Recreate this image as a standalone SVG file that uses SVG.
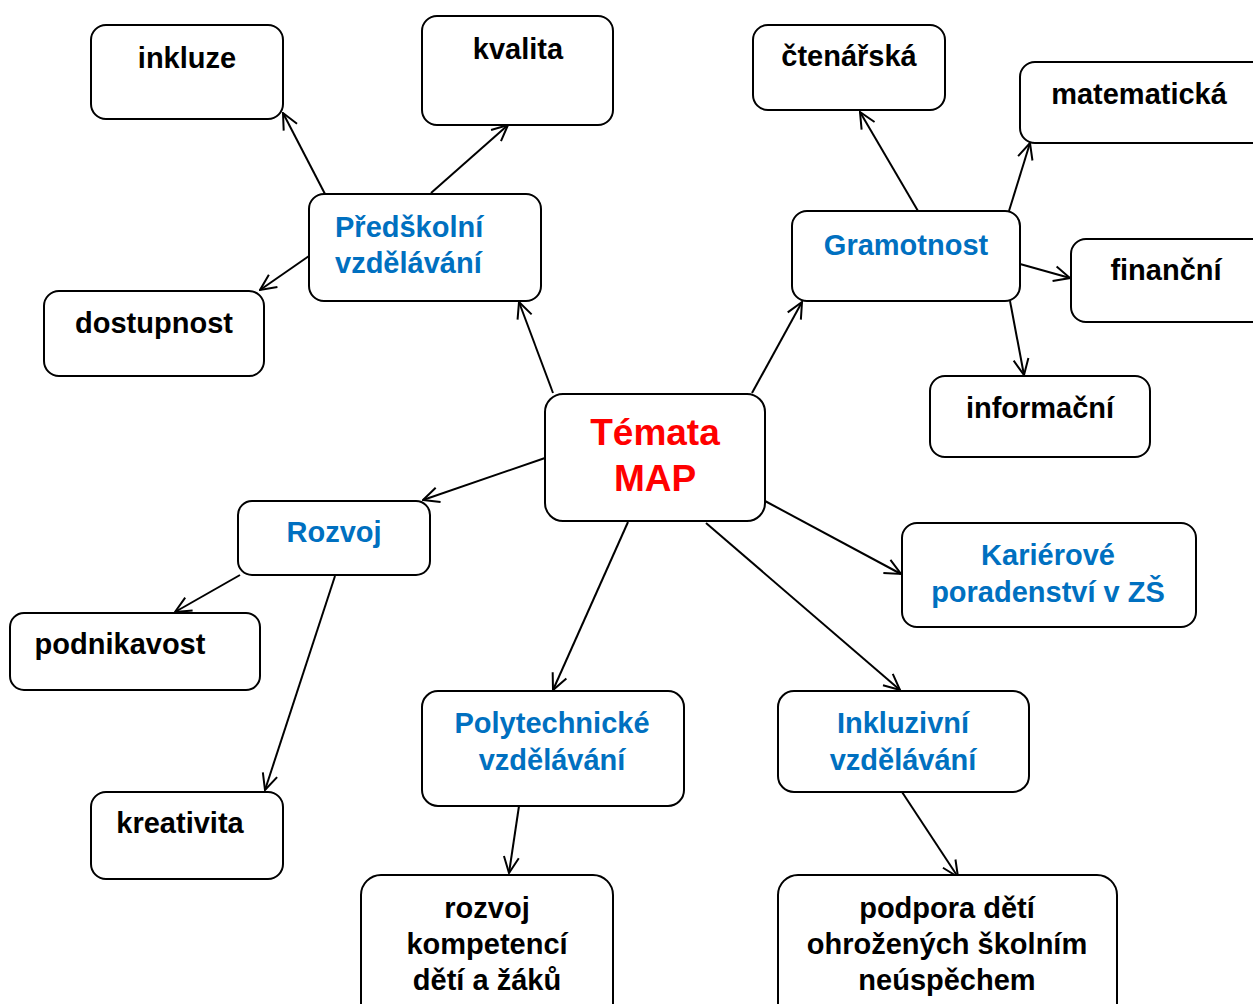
<svg xmlns="http://www.w3.org/2000/svg" width="1253" height="1004" viewBox="0 0 1253 1004">
<style>
.box{fill:#fff;stroke:#000;stroke-width:2}
.t{font-family:"Liberation Sans",Arial,sans-serif;font-weight:bold;font-size:29px;fill:#000;text-anchor:middle}
.b{fill:#0070c0}
.r{fill:#ff0000;font-size:37px}
.c{fill:none;stroke:#000;stroke-width:2;marker-end:url(#arr)}
</style>
<defs>
<marker id="arr" markerUnits="userSpaceOnUse" markerWidth="18" markerHeight="18" viewBox="0 0 18 18" refX="17" refY="9" orient="auto">
<path d="M1,1.5 L17,9 L1,16.5" fill="none" stroke="#000" stroke-width="2"/>
</marker>
</defs>
<rect width="1253" height="1004" fill="#fff"/>
<g id="connectors">
<path class="c" d="M325,194 L283,113"/>
<path class="c" d="M431,193 L508,125"/>
<path class="c" d="M309,256 L260,290"/>
<path class="c" d="M553,393 L519,302"/>
<path class="c" d="M918,211 L860,112"/>
<path class="c" d="M1009,211 L1030,143"/>
<path class="c" d="M1020,264 L1070,278"/>
<path class="c" d="M1010,301 L1024,375"/>
<path class="c" d="M752,393 L802,302"/>
<path class="c" d="M545,458 L423,500"/>
<path class="c" d="M240,575 L175,612"/>
<path class="c" d="M335,576 L265,790"/>
<path class="c" d="M628,522 L553,690"/>
<path class="c" d="M706,523 L900,690"/>
<path class="c" d="M765,501 L901,574"/>
<path class="c" d="M519,806 L509,873"/>
<path class="c" d="M902,792 L958,877"/>
</g>
<g id="inkluze"><rect class="box" x="91" y="25" width="192" height="94" rx="15"/><text class="t" x="187" y="68">inkluze</text></g>
<g id="kvalita"><rect class="box" x="422" y="16" width="191" height="109" rx="15"/><text class="t" x="518" y="59">kvalita</text></g>
<g id="predskolni"><rect class="box" x="309" y="194" width="232" height="107" rx="15"/><text class="t b" x="335" y="237" style="text-anchor:start">Předškolní</text><text class="t b" x="335" y="273" style="text-anchor:start">vzdělávání</text></g>
<g id="dostupnost"><rect class="box" x="44" y="291" width="220" height="85" rx="15"/><text class="t" x="154" y="333">dostupnost</text></g>
<g id="ctenarska"><rect class="box" x="753" y="25" width="192" height="85" rx="15"/><text class="t" x="849" y="66">čtenářská</text></g>
<g id="matematicka"><rect class="box" x="1020" y="62" width="250" height="81" rx="15"/><text class="t" x="1139" y="104">matematická</text></g>
<g id="gramotnost"><rect class="box" x="792" y="211" width="228" height="90" rx="15"/><text class="t b" x="906" y="255">Gramotnost</text></g>
<g id="financni"><rect class="box" x="1071" y="239" width="200" height="83" rx="15"/><text class="t" x="1166" y="280">finanční</text></g>
<g id="informacni"><rect class="box" x="930" y="376" width="220" height="81" rx="15"/><text class="t" x="1040" y="418">informační</text></g>
<g id="temata"><rect class="box" x="545" y="394" width="220" height="127" rx="18"/><text class="t r" x="655" y="445">Témata</text><text class="t r" x="655" y="491">MAP</text></g>
<g id="rozvoj"><rect class="box" x="238" y="501" width="192" height="74" rx="14"/><text class="t b" x="334" y="542">Rozvoj</text></g>
<g id="karierove"><rect class="box" x="902" y="523" width="294" height="104" rx="15"/><text class="t b" x="1048" y="565">Kariérové</text><text class="t b" x="1048" y="602">poradenství v ZŠ</text></g>
<g id="podnikavost"><rect class="box" x="10" y="613" width="250" height="77" rx="14"/><text class="t" x="120" y="654">podnikavost</text></g>
<g id="polytechnicke"><rect class="box" x="422" y="691" width="262" height="115" rx="16"/><text class="t b" x="552" y="733">Polytechnické</text><text class="t b" x="552" y="770">vzdělávání</text></g>
<g id="inkluzivni"><rect class="box" x="778" y="691" width="251" height="101" rx="16"/><text class="t b" x="903" y="733">Inkluzivní</text><text class="t b" x="903" y="770">vzdělávání</text></g>
<g id="kreativita"><rect class="box" x="91" y="792" width="192" height="87" rx="15"/><text class="t" x="180" y="833">kreativita</text></g>
<g id="rozvoj-kompetenci"><rect class="box" x="361" y="875" width="252" height="150" rx="20"/><text class="t" x="487" y="918">rozvoj</text><text class="t" x="487" y="954">kompetencí</text><text class="t" x="487" y="990">dětí a žáků</text></g>
<g id="podpora"><rect class="box" x="778" y="875" width="339" height="150" rx="20"/><text class="t" x="947" y="918">podpora dětí</text><text class="t" x="947" y="954">ohrožených školním</text><text class="t" x="947" y="990">neúspěchem</text></g>
</svg>
